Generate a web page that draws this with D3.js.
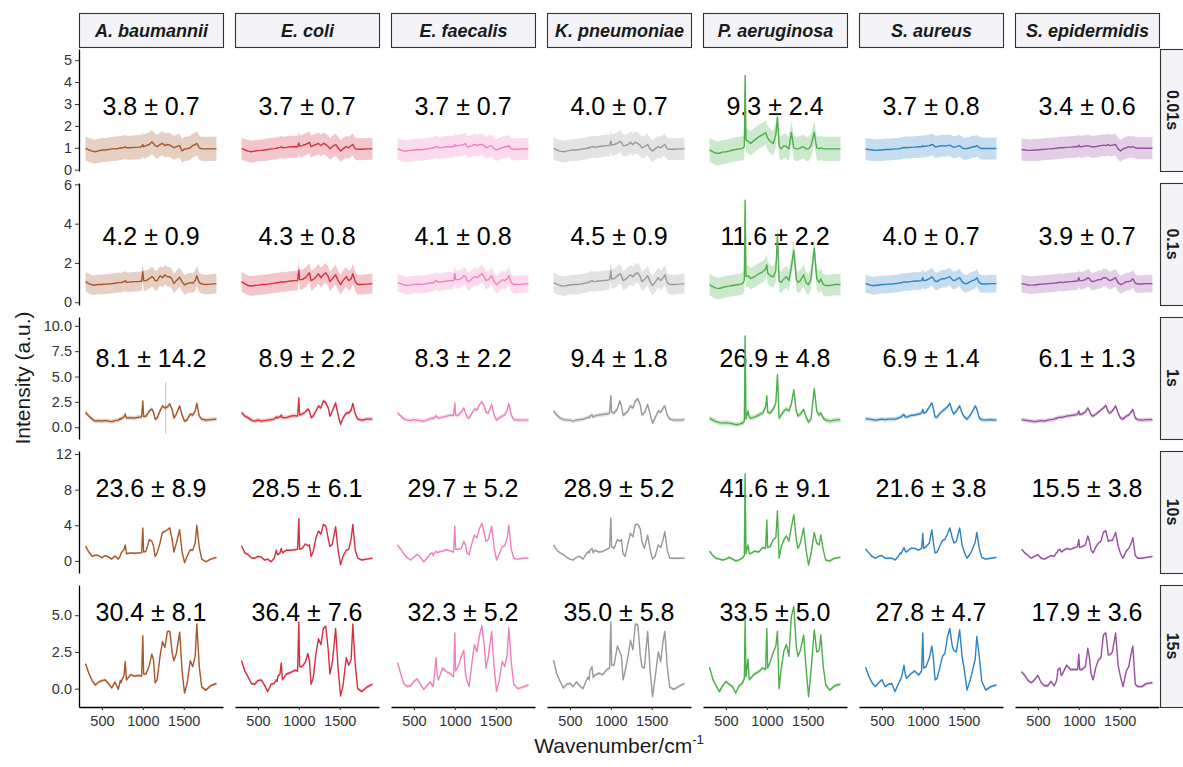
<!DOCTYPE html>
<html>
<head>
<meta charset="utf-8">
<script src="https://cdn.jsdelivr.net/npm/d3@7"></script>
<style>
  body { margin: 0; background: #fff; }
  text { font-family: "Liberation Sans", Arial, Helvetica, sans-serif; }
</style>
</head>
<body>
<div id="chart"></div>
<script>

var species = ["A. baumannii", "E. coli", "E. faecalis", "K. pneumoniae", "P. aeruginosa", "S. aureus", "S. epidermidis"];
var times = ["0.01s", "0.1s", "1s", "10s", "15s"];
var colors = ["#A65628", "#D6303F", "#F07FBF", "#999999", "#4DAF4A", "#2E84C2", "#984EA3"];

var wavenumbers = [300, 340, 380, 420, 460, 500, 540, 580, 620, 660,
    700, 725, 735, 745, 770, 785, 800, 850, 900, 950,
    985, 1000, 1010, 1040, 1080, 1110, 1130, 1150, 1175, 1210,
    1240, 1270, 1300, 1330, 1360, 1380, 1410, 1450, 1480, 1510,
    1540, 1580, 1610, 1640, 1660, 1690, 1720, 1770, 1830, 1900];

var xTicks = [500, 1000, 1500];
var yDomains = [[-0.06, 5.51], [-0.14, 6.07], [-1.16, 10.87], [-1.36, 12.34], [-1.25, 7.06]];
var yTicks = [[0, 1, 2, 3, 4, 5], [0, 2, 4, 6], [0, 2.5, 5, 7.5, 10], [0, 4, 8, 12], [0, 2.5, 5]];
var yTickFormat = ["d", "d", ".1f", "d", ".1f"];

// mean ± sd of the total intensity, printed in each panel
var labelMean = [[3.8, 3.7, 3.7, 4.0, 9.3, 3.7, 3.4],
    [4.2, 4.3, 4.1, 4.5, 11.6, 4.0, 3.9],
    [8.1, 8.9, 8.3, 9.4, 26.9, 6.9, 6.1],
    [23.6, 28.5, 29.7, 28.9, 41.6, 21.6, 15.5],
    [30.4, 36.4, 32.3, 35.0, 33.5, 27.8, 17.9]];
var labelSd = [[0.7, 0.7, 0.7, 0.7, 2.4, 0.8, 0.6],
    [0.9, 0.8, 0.8, 0.9, 2.2, 0.7, 0.7],
    [14.2, 2.2, 2.2, 1.8, 4.8, 1.4, 1.3],
    [8.9, 6.1, 5.2, 5.2, 9.1, 3.8, 3.8],
    [8.1, 7.6, 5.2, 5.8, 5.0, 4.7, 3.6]];
var labelY = [2.9, 3.37, 6.8, 8.15, 5.2];

// half width of the shaded band
var bandSd = [[0.55, 0.5, 0.5, 0.5, 0.55, 0.5, 0.5],
    [0.5, 0.5, 0.45, 0.5, 0.55, 0.45, 0.45],
    [0.2, 0.2, 0.2, 0.22, 0.25, 0.2, 0.2],
    [0.12, 0.12, 0.12, 0.12, 0.15, 0.12, 0.12],
    [0.1, 0.1, 0.1, 0.1, 0.12, 0.1, 0.1]];
var bandSpikes = [{row: 2, col: 0, wn: 1280, lo: -0.6, hi: 4.4}];

var spectra001s = [
  [0.97,0.9,0.85,0.82,0.86,0.9,0.9,0.92,0.95,0.95,
   0.97,1.0,0.98,1.0,1.02,1.05,1.0,1.0,1.02,1.03,
   1.05,1.15,1.05,1.1,1.15,1.27,1.2,1.1,1.05,1.15,
   1.2,1.1,1.15,1.12,1.05,1.0,1.05,1.1,0.85,0.95,
   0.95,1.0,1.1,1.15,1.2,1.0,0.95,0.95,0.95,0.95],
  [0.97,0.9,0.85,0.82,0.85,0.87,0.88,0.9,0.92,0.95,
   0.96,0.98,0.97,1.0,1.02,1.05,1.0,1.02,1.05,1.05,
   1.05,1.22,1.08,1.1,1.15,1.2,1.25,1.05,1.1,1.15,
   1.2,1.1,1.2,1.15,1.05,0.95,1.05,1.15,1.0,0.85,
   0.95,1.05,1.0,1.1,1.15,0.95,0.93,0.93,0.95,0.95],
  [0.95,0.9,0.85,0.85,0.88,0.9,0.92,0.9,0.93,0.95,
   0.97,1.0,0.98,1.0,1.05,1.05,1.0,1.02,1.05,1.05,
   1.05,1.15,1.08,1.1,1.12,1.15,1.2,1.05,1.05,1.1,
   1.15,1.1,1.15,1.15,1.1,1.0,1.05,1.1,0.95,0.9,
   0.95,1.0,1.05,1.05,1.1,0.95,0.93,0.93,0.95,0.95],
  [0.97,0.9,0.85,0.82,0.85,0.88,0.9,0.9,0.92,0.95,
   0.97,1.0,0.98,1.02,1.05,1.05,1.02,1.05,1.08,1.1,
   1.1,1.3,1.12,1.15,1.2,1.3,1.25,1.1,1.1,1.15,
   1.25,1.15,1.25,1.2,1.1,1.0,1.05,1.15,0.95,0.85,
   0.95,1.05,1.0,1.1,1.15,0.95,0.93,0.93,0.95,0.95],
  [0.9,0.82,0.75,0.75,0.8,0.82,0.85,0.9,0.92,0.95,
   0.97,1.05,4.3,1.35,1.3,1.25,1.2,1.35,1.5,1.6,
   1.7,1.55,1.45,1.3,1.2,1.6,2.4,1.1,0.95,1.1,
   1.05,0.95,1.7,1.0,0.95,0.95,1.0,1.05,0.95,0.95,
   1.1,1.7,1.0,0.95,1.0,0.95,0.95,0.95,0.95,0.95],
  [0.95,0.92,0.9,0.88,0.9,0.9,0.92,0.92,0.93,0.95,
   0.95,0.97,0.97,1.0,1.0,1.02,1.0,1.02,1.03,1.05,
   1.05,1.1,1.05,1.08,1.1,1.15,1.12,1.05,1.05,1.08,
   1.1,1.08,1.1,1.12,1.05,1.02,1.05,1.1,1.0,0.95,
   0.97,1.0,1.05,1.05,1.1,1.0,0.97,0.97,0.97,0.97],
  [0.92,0.9,0.88,0.88,0.9,0.9,0.92,0.93,0.95,0.95,
   0.97,0.98,0.97,1.0,1.0,1.0,1.0,1.02,1.03,1.05,
   1.05,1.12,1.05,1.05,1.08,1.1,1.08,1.05,1.05,1.05,
   1.08,1.1,1.12,1.1,1.15,1.1,1.12,1.15,0.95,0.85,
   0.95,1.0,1.05,1.02,1.05,1.0,0.98,0.98,0.98,0.98]
];

var spectra01s = [
  [1.05,0.95,0.88,0.88,0.9,0.9,0.92,0.93,0.95,0.97,
   1.0,1.0,1.0,1.02,1.05,1.1,1.02,1.03,1.05,1.05,
   1.08,1.55,1.1,1.1,1.2,1.3,1.25,1.1,1.1,1.35,
   1.25,1.4,1.3,1.3,1.15,0.95,1.1,1.27,1.05,0.88,
   0.95,1.0,0.97,1.1,1.35,1.0,0.93,0.9,0.92,0.95],
  [1.05,0.95,0.85,0.83,0.85,0.87,0.9,0.9,0.92,0.95,
   0.97,1.0,0.98,1.0,1.02,1.05,1.02,1.05,1.08,1.1,
   1.1,1.65,1.15,1.15,1.25,1.4,1.5,1.1,1.15,1.3,
   1.45,1.25,1.4,1.5,1.3,1.05,1.2,1.4,1.1,0.9,
   1.1,1.3,1.1,1.2,1.45,1.05,0.9,0.9,0.92,0.95],
  [1.0,0.95,0.88,0.85,0.87,0.9,0.92,0.9,0.92,0.95,
   0.98,1.0,0.98,1.02,1.1,1.05,1.02,1.05,1.08,1.1,
   1.1,1.45,1.15,1.15,1.2,1.35,1.3,1.1,1.05,1.2,
   1.3,1.25,1.35,1.45,1.3,1.1,1.15,1.35,1.05,0.9,
   1.0,1.15,1.1,1.2,1.35,1.0,0.9,0.9,0.92,0.95],
  [1.0,0.92,0.85,0.82,0.85,0.88,0.9,0.9,0.92,0.95,
   0.98,1.02,1.0,1.05,1.1,1.05,1.05,1.08,1.1,1.12,
   1.15,1.6,1.2,1.2,1.35,1.45,1.35,1.1,1.15,1.3,
   1.4,1.3,1.45,1.5,1.3,1.05,1.15,1.35,1.05,0.85,
   1.0,1.25,1.1,1.25,1.4,1.0,0.9,0.9,0.92,0.95],
  [0.9,0.8,0.72,0.7,0.75,0.8,0.82,0.85,0.88,0.9,
   0.95,1.1,5.2,1.3,1.35,1.3,1.2,1.3,1.45,1.55,
   1.7,1.9,1.5,1.35,1.3,1.6,3.4,1.1,1.0,1.2,
   1.3,1.1,1.8,2.65,1.2,1.0,1.1,1.4,1.0,0.9,
   1.2,2.75,1.2,1.0,1.2,0.9,0.85,0.85,0.9,0.9],
  [0.95,0.9,0.85,0.85,0.88,0.9,0.9,0.92,0.93,0.95,
   0.97,1.0,0.98,1.0,1.05,1.03,1.02,1.05,1.08,1.08,
   1.1,1.25,1.1,1.12,1.2,1.3,1.2,1.08,1.05,1.15,
   1.2,1.2,1.25,1.3,1.15,1.1,1.15,1.25,1.05,0.95,
   0.95,1.05,1.1,1.15,1.25,1.0,0.93,0.93,0.95,0.95],
  [0.95,0.92,0.88,0.87,0.88,0.9,0.92,0.93,0.95,0.96,
   0.97,1.0,0.98,1.0,1.02,1.02,1.0,1.03,1.05,1.07,
   1.08,1.25,1.1,1.1,1.15,1.25,1.2,1.08,1.05,1.1,
   1.15,1.15,1.25,1.25,1.15,1.1,1.15,1.25,1.0,0.9,
   0.95,1.05,1.05,1.1,1.2,0.97,0.93,0.93,0.95,0.95]
];

var spectra1s = [
  [1.45,1.1,0.8,0.6,0.65,0.6,0.65,0.6,0.55,0.65,
   0.7,0.85,0.8,0.9,1.0,1.3,0.9,0.95,0.9,1.0,
   1.0,2.6,1.05,1.1,1.6,1.8,1.5,0.8,0.9,1.6,
   2.1,1.9,2.0,2.3,1.7,0.9,1.3,2.1,1.2,0.6,
   0.7,1.3,1.2,1.6,2.35,1.1,0.8,0.7,0.75,0.8],
  [1.45,1.1,0.95,0.7,0.6,0.7,0.6,0.65,0.7,0.75,
   0.8,1.0,0.9,1.0,1.0,1.2,0.95,0.95,1.1,1.15,
   1.1,2.9,1.2,1.3,1.5,1.8,1.6,0.95,1.1,1.6,
   2.1,1.9,2.6,2.4,1.9,1.1,1.6,2.4,1.2,0.3,
   0.9,1.4,1.4,1.7,2.35,1.3,0.8,0.7,0.8,0.8],
  [1.4,1.1,0.8,0.7,0.65,0.75,0.7,0.65,0.6,0.7,
   0.85,0.9,0.85,0.9,1.1,1.0,0.9,1.0,1.1,1.2,
   1.15,2.4,1.2,1.15,1.5,1.9,1.4,1.0,0.9,1.4,
   1.8,1.7,2.2,2.5,2.1,1.5,1.4,2.25,1.2,0.7,
   0.9,1.1,1.2,1.7,2.35,1.2,0.75,0.7,0.7,0.7],
  [1.6,1.2,0.9,0.75,0.7,0.7,0.6,0.7,0.75,0.8,
   0.9,1.0,0.9,1.1,1.2,1.0,1.1,1.2,1.25,1.3,
   1.4,3.1,1.5,1.4,1.8,2.6,2.1,1.2,1.3,1.6,
   2.1,1.9,2.6,2.8,2.2,1.2,1.4,2.25,1.3,0.4,
   0.9,1.6,1.5,1.9,2.1,1.2,0.8,0.7,0.7,0.75],
  [0.9,0.7,0.55,0.45,0.4,0.45,0.4,0.35,0.25,0.3,
   0.4,0.6,9.0,0.8,1.6,1.0,0.9,1.0,1.2,1.4,
   2.0,3.1,1.5,1.4,1.8,2.4,5.2,0.9,1.2,1.6,
   1.8,1.6,2.3,3.7,1.6,1.1,1.3,1.75,1.0,0.5,
   0.8,3.8,1.6,1.2,1.4,0.9,0.7,0.6,0.7,0.75],
  [0.85,0.8,0.75,0.7,0.75,0.8,0.75,0.8,0.8,0.8,
   0.9,1.0,1.0,1.1,1.25,1.0,1.0,1.15,1.2,1.3,
   1.4,1.75,1.4,1.5,2.0,2.4,1.8,1.0,1.0,1.4,
   1.6,1.8,2.0,2.35,1.6,1.3,1.6,2.1,1.4,1.0,
   0.8,1.2,1.6,2.1,1.8,0.9,0.75,0.7,0.75,0.7],
  [0.75,0.7,0.65,0.6,0.55,0.6,0.65,0.6,0.7,0.75,
   0.8,0.9,0.85,0.95,1.0,0.95,1.0,1.1,1.15,1.2,
   1.3,1.6,1.25,1.3,1.5,1.9,1.6,1.2,1.1,1.3,
   1.5,1.7,1.9,2.15,1.5,1.4,1.6,2.1,1.4,0.9,
   0.8,1.1,1.2,1.5,1.75,0.9,0.75,0.7,0.75,0.75]
];

var spectra10s = [
  [1.65,1.0,0.5,0.65,0.6,0.35,0.6,0.45,0.2,0.55,
   0.2,0.6,0.9,1.0,1.3,1.8,0.8,0.9,0.85,0.9,
   0.9,3.7,1.0,1.1,2.4,2.2,1.7,0.5,0.9,2.0,
   3.2,3.3,3.5,3.7,2.3,1.0,2.0,3.5,1.0,-0.2,
   0.5,1.25,1.2,2.0,4.0,1.5,0.2,-0.1,0.2,0.4],
  [1.7,0.9,0.7,0.35,0.3,0.5,0.45,0.1,0.2,-0.1,
   0.3,1.2,0.8,0.7,0.9,1.4,0.9,1.2,1.2,1.25,
   1.3,4.75,1.3,1.4,1.9,1.7,1.8,0.5,1.0,2.6,
   3.35,3.0,4.1,3.9,2.5,1.6,1.9,3.85,1.2,-0.45,
   0.5,1.2,1.3,2.5,4.1,1.2,0.3,0.1,0.2,0.3],
  [1.8,1.3,0.75,0.35,0.1,0.4,0.75,0.4,-0.1,0.3,
   0.8,0.9,0.6,0.8,1.1,0.9,1.0,1.1,1.25,1.1,
   1.0,3.9,1.3,1.3,1.4,2.2,1.8,0.9,0.7,2.0,
   2.9,2.6,3.6,4.2,3.2,2.2,2.4,3.9,1.5,0.1,
   0.7,1.6,1.7,2.6,4.0,1.3,0.3,0.2,0.3,0.3],
  [1.8,1.2,0.9,0.7,0.4,0.2,0.1,0.4,0.5,0.2,
   0.8,1.05,0.9,1.2,1.4,0.9,1.2,1.0,1.05,1.3,
   1.45,4.8,1.6,1.4,2.4,2.2,2.4,0.8,0.5,2.0,
   3.1,2.7,4.1,4.1,3.6,2.2,1.4,2.9,1.3,0.2,
   0.5,1.8,1.5,2.4,3.3,1.2,0.3,0.3,0.3,0.3],
  [1.1,0.6,0.3,0.2,0.1,0.2,0.4,0.2,0.0,0.1,
   0.3,0.6,9.8,0.8,1.8,0.9,0.8,1.1,1.0,1.5,
   1.4,4.6,1.5,1.6,2.4,2.6,5.6,0.3,1.5,2.4,
   2.8,2.2,3.8,5.2,2.4,1.4,2.0,3.7,1.2,-0.45,
   0.8,3.2,2.0,1.8,2.9,1.2,0.1,0.0,0.3,0.4],
  [1.35,0.9,0.5,0.3,0.5,0.6,0.3,0.3,0.3,0.1,
   0.5,0.9,0.8,1.0,1.5,1.1,1.0,1.4,1.4,1.2,
   1.4,3.1,1.4,1.6,2.0,3.5,2.0,0.9,1.0,1.7,
   2.3,2.4,3.0,3.7,2.6,2.0,2.2,3.7,1.8,0.9,
   0.3,0.8,1.4,2.1,3.2,1.4,0.4,0.2,0.3,0.4],
  [1.3,0.9,0.6,0.3,0.5,0.7,0.3,0.2,0.4,0.6,
   0.5,0.9,0.9,1.2,1.3,1.0,1.1,1.4,1.3,1.5,
   1.6,2.4,1.5,1.6,1.8,2.8,2.2,1.2,0.9,1.6,
   2.0,2.2,3.2,3.4,2.2,2.3,2.3,3.2,1.7,0.8,
   0.3,1.1,1.4,2.0,2.6,0.6,0.3,0.3,0.4,0.5]
];

var spectra15s = [
  [1.7,1.05,0.55,0.25,0.45,0.55,0.6,0.35,0.05,0.45,
   -0.05,0.55,0.4,0.6,0.9,1.85,0.6,0.95,0.85,0.9,
   0.85,3.6,1.0,1.0,1.6,2.35,2.0,0.4,0.6,2.2,
   3.2,2.8,3.9,3.9,2.4,1.9,2.4,3.85,1.2,-0.3,
   0.3,1.9,1.5,2.2,4.4,1.5,0.1,-0.1,0.2,0.35],
  [1.9,1.2,0.8,0.35,0.3,0.55,0.6,0.25,-0.2,0.3,
   0.36,0.6,0.5,0.85,1.0,1.75,0.6,1.0,1.1,1.25,
   1.2,4.55,1.5,1.5,1.8,2.4,1.9,0.3,0.7,2.4,
   3.4,3.0,4.1,4.25,2.6,1.0,1.8,4.1,1.4,-0.5,
   0.2,2.1,1.6,2.0,4.4,1.6,0.0,-0.2,0.1,0.3],
  [1.77,1.0,0.3,0.15,0.2,0.5,0.66,0.3,-0.05,0.2,
   0.45,0.2,0.15,0.6,2.1,0.9,0.6,1.4,1.15,1.0,
   0.8,3.8,1.2,1.5,2.2,2.6,1.0,0.5,0.14,1.8,
   3.0,2.5,3.6,4.3,3.0,1.4,2.2,3.9,1.5,-0.2,
   0.5,1.85,1.5,2.3,4.15,1.8,0.3,0.0,0.1,0.25],
  [1.95,1.0,0.5,0.05,0.3,0.36,0.15,0.45,0.2,0.0,
   0.55,0.8,0.6,1.2,1.5,0.75,0.9,1.05,0.95,1.3,
   1.4,4.55,1.6,1.6,2.9,2.5,2.2,0.6,1.2,2.2,
   3.3,2.65,4.4,4.35,2.3,1.5,1.4,3.9,1.3,-0.55,
   0.7,2.5,1.85,3.3,3.9,1.5,0.1,-0.05,0.15,0.36],
  [1.45,0.65,0.2,-0.2,0.2,0.48,0.3,0.14,-0.3,0.2,
   0.36,0.7,4.7,0.8,2.0,0.6,0.7,1.0,1.15,1.4,
   1.3,4.1,1.4,1.8,2.5,2.9,3.9,0.0,1.3,2.6,
   3.0,2.2,4.9,5.6,2.9,2.2,2.6,3.65,1.4,-0.55,
   1.2,4.0,2.5,2.6,3.65,1.5,0.25,-0.1,0.2,0.3],
  [1.45,0.85,0.4,0.14,0.4,0.6,0.14,0.3,0.35,-0.2,
   0.3,0.6,0.7,0.9,1.6,1.0,0.7,1.0,1.2,0.93,
   1.2,3.8,1.4,1.5,2.1,2.9,2.0,0.6,0.7,1.5,
   2.2,2.4,3.5,4.1,2.9,2.6,2.5,4.0,2.2,1.2,
   -0.1,0.6,1.3,2.0,3.55,2.2,0.5,-0.1,0.14,0.25],
  [1.15,0.9,0.55,0.4,0.6,0.9,0.4,0.2,0.2,0.5,
   0.2,0.5,0.8,1.3,1.4,0.9,1.0,1.6,1.3,1.3,
   1.3,2.35,1.3,1.3,1.5,2.75,2.1,1.0,0.6,1.5,
   1.95,2.1,3.65,3.8,2.3,2.3,2.5,3.8,1.6,0.8,
   0.14,1.2,1.5,2.4,2.9,0.3,0.14,0.14,0.36,0.4]
];

var spectra = [spectra001s, spectra01s, spectra1s, spectra10s, spectra15s];

function drawChart(chartId) {
    var width = 1183;
    var height = 767;
    var left = 79, top = 49;
    var panelW = 144, panelH = 122;
    var colStep = 156, rowStep = 134;

    var svg = d3.select(chartId)
      .append("svg")
      .attr("width", width)
      .attr("height", height);

    // ggplot style 5% expansion of the wavenumber range
    var wnExt = d3.extent(wavenumbers);
    var pad = (wnExt[1] - wnExt[0]) * 0.05;
    var x = d3.scaleLinear()
      .domain([wnExt[0] - pad, wnExt[1] + pad])
      .range([0, panelW]);

    // column strips
    for (var c = 0; c < species.length; c++) {
        var sg = svg.append("g")
          .attr("transform", "translate(" + (left + c * colStep) + "," + (top - 36) + ")");
        sg.append("rect")
          .attr("x", 0.5).attr("y", 0.5)
          .attr("width", panelW).attr("height", 34)
          .style("fill", "#F3F3F8")
          .style("stroke", "#333")
          .style("stroke-width", 1.1);
        sg.append("text")
          .attr("x", panelW / 2 + 0.5)
          .attr("y", 18)
          .attr("text-anchor", "middle")
          .attr("dominant-baseline", "central")
          .style("font-size", "18px")
          .style("font-weight", "bold")
          .style("font-style", "italic")
          .style("fill", "#1a1a1a")
          .text(species[c]);
    }

    for (var r = 0; r < times.length; r++) {
        var y = d3.scaleLinear().domain(yDomains[r]).range([panelH, 0]);
        var py = top + r * rowStep;

        // row strip
        var rg = svg.append("g").attr("transform", "translate(1160," + py + ")");
        rg.append("rect")
          .attr("x", 0.5).attr("y", 0.5)
          .attr("width", 30).attr("height", panelH)
          .style("fill", "#F3F3F8")
          .style("stroke", "#333")
          .style("stroke-width", 1.1);
        rg.append("text")
          .attr("transform", "translate(12," + (panelH / 2) + ") rotate(90)")
          .attr("text-anchor", "middle")
          .attr("dominant-baseline", "central")
          .style("font-size", "16px")
          .style("font-weight", "bold")
          .style("fill", "#1a1a1a")
          .text(times[r]);

        for (var c = 0; c < species.length; c++) {
            var values = spectra[r][c];
            var sd = bandSd[r][c];
            var g = svg.append("g")
              .attr("transform", "translate(" + (left + c * colStep) + "," + py + ")");

            g.append("text")
              .attr("x", panelW / 2)
              .attr("y", y(labelY[r]))
              .attr("text-anchor", "middle")
              .attr("dominant-baseline", "central")
              .style("font-size", "25px")
              .style("fill", "#000")
              .text(labelMean[r][c].toFixed(1) + " \u00B1 " + labelSd[r][c].toFixed(1));

            var area = d3.area()
              .x(function (d, i) { return x(wavenumbers[i]); })
              .y0(function (d) { return y(d - sd); })
              .y1(function (d) { return y(d + sd); });
            var line = d3.line()
              .x(function (d, i) { return x(wavenumbers[i]); })
              .y(function (d) { return y(d); });

            g.append("path")
              .datum(values)
              .attr("d", area)
              .style("fill", colors[c])
              .style("fill-opacity", 0.28)
              .style("stroke", "none");

            bandSpikes.forEach(function (s) {
                if (s.row == r && s.col == c) {
                    g.append("line")
                      .attr("x1", x(s.wn)).attr("x2", x(s.wn))
                      .attr("y1", y(s.lo)).attr("y2", y(s.hi))
                      .style("stroke", colors[c])
                      .style("stroke-opacity", 0.35)
                      .style("stroke-width", 1.2);
                }
            });

            g.append("path")
              .datum(values)
              .attr("d", line)
              .style("fill", "none")
              .style("stroke", colors[c])
              .style("stroke-width", 1.4)
              .style("stroke-linejoin", "round");

            if (c == 0) {
                var ya = g.append("g")
                  .call(d3.axisLeft(y)
                    .tickValues(yTicks[r])
                    .tickSize(4)
                    .tickSizeOuter(0)
                    .tickPadding(3)
                    .tickFormat(d3.format(yTickFormat[r])));
                ya.select(".domain").style("stroke", "#000").style("stroke-width", 1.3);
                ya.selectAll(".tick line").style("stroke", "#333");
                ya.selectAll(".tick text")
                  .style("font-size", "14.5px")
                  .style("font-family", "'Liberation Sans', Arial, sans-serif")
                  .style("fill", "#333");
            }

            if (r == times.length - 1) {
                var xa = g.append("g")
                  .attr("transform", "translate(0," + panelH + ")")
                  .call(d3.axisBottom(x)
                    .tickValues(xTicks)
                    .tickSize(3)
                    .tickSizeOuter(0)
                    .tickPadding(6)
                    .tickFormat(d3.format("d")));
                xa.select(".domain").style("stroke", "#000").style("stroke-width", 1.3);
                xa.selectAll(".tick line").style("stroke", "#333");
                xa.selectAll(".tick text")
                  .style("font-size", "14.5px")
                  .style("font-family", "'Liberation Sans', Arial, sans-serif")
                  .style("fill", "#333");
            }
        }
    }

    // axis titles
    svg.append("text")
      .attr("transform", "translate(22," + (top + (4 * rowStep + panelH) / 2) + ") rotate(-90)")
      .attr("text-anchor", "middle")
      .attr("dominant-baseline", "central")
      .style("font-size", "21px")
      .style("fill", "#1a1a1a")
      .text("Intensity (a.u.)");

    var xt = svg.append("text")
      .attr("x", left + (6 * colStep + panelW) / 2)
      .attr("y", 753)
      .attr("text-anchor", "middle")
      .style("font-size", "21px")
      .style("fill", "#1a1a1a");
    xt.append("tspan").text("Wavenumber/cm");
    xt.append("tspan")
      .attr("dy", -9)
      .style("font-size", "13px")
      .text("-1");
}

drawChart("#chart");
</script>
</body>
</html>
